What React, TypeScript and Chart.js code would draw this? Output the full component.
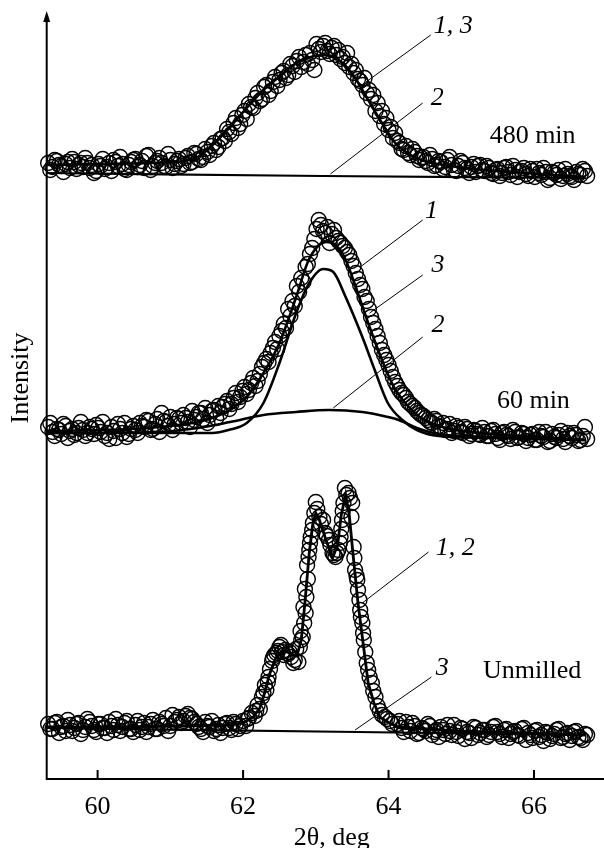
import React, { useEffect, useRef } from "react";
import { Chart, registerables } from "chart.js";

Chart.register(...registerables);

const FONT = '"Liberation Serif", "Times New Roman", Times, serif';

// ---- measured 2θ positions (deg), first and interleaved second sampling ----
const angles = [
  59.32, 59.38, 59.44, 59.5, 59.56, 59.62, 59.68, 59.74, 59.8, 59.86,
  59.92, 59.98, 60.04, 60.1, 60.16, 60.22, 60.28, 60.34, 60.4, 60.46,
  60.52, 60.58, 60.64, 60.7, 60.76, 60.82, 60.88, 60.94, 61.0, 61.06,
  61.12, 61.18, 61.24, 61.3, 61.36, 61.42, 61.48, 61.54, 61.6, 61.66,
  61.72, 61.78, 61.84, 61.9, 61.96, 62.02, 62.08, 62.14, 62.2, 62.26,
  62.32, 62.38, 62.44, 62.5, 62.56, 62.62, 62.68, 62.74, 62.8, 62.86,
  62.92, 62.98, 63.04, 63.1, 63.16, 63.22, 63.28, 63.34, 63.4, 63.46,
  63.52, 63.58, 63.64, 63.7, 63.76, 63.82, 63.88, 63.94, 64.0, 64.06,
  64.12, 64.18, 64.24, 64.3, 64.36, 64.42, 64.48, 64.54, 64.6, 64.66,
  64.72, 64.78, 64.84, 64.9, 64.96, 65.02, 65.08, 65.14, 65.2, 65.26,
  65.32, 65.38, 65.44, 65.5, 65.56, 65.62, 65.68, 65.74, 65.8, 65.86,
  65.92, 65.98, 66.04, 66.1, 66.16, 66.22, 66.28, 66.34, 66.4, 66.46,
  66.52, 66.58, 66.64, 66.7,
];
const angles2 = [
  59.35, 59.41, 59.47, 59.53, 59.59, 59.65, 59.71, 59.77, 59.83, 59.89,
  59.95, 60.01, 60.07, 60.13, 60.19, 60.25, 60.31, 60.37, 60.43, 60.49,
  60.55, 60.61, 60.67, 60.73, 60.79, 60.85, 60.91, 60.97, 61.03, 61.09,
  61.15, 61.21, 61.27, 61.33, 61.39, 61.45, 61.51, 61.57, 61.63, 61.69,
  61.75, 61.81, 61.87, 61.93, 61.99, 62.05, 62.11, 62.17, 62.23, 62.29,
  62.35, 62.41, 62.47, 62.53, 62.59, 62.65, 62.71, 62.77, 62.83, 62.89,
  62.95, 63.01, 63.07, 63.13, 63.19, 63.25, 63.31, 63.37, 63.43, 63.49,
  63.55, 63.61, 63.67, 63.73, 63.79, 63.85, 63.91, 63.97, 64.03, 64.09,
  64.15, 64.21, 64.27, 64.33, 64.39, 64.45, 64.51, 64.57, 64.63, 64.69,
  64.75, 64.81, 64.87, 64.93, 64.99, 65.05, 65.11, 65.17, 65.23, 65.29,
  65.35, 65.41, 65.47, 65.53, 65.59, 65.65, 65.71, 65.77, 65.83, 65.89,
  65.95, 66.01, 66.07, 66.13, 66.19, 66.25, 66.31, 66.37, 66.43, 66.49,
  66.55, 66.61, 66.67, 66.73,
];

// ---- 480 min (measured intensity, arb. units) ----
const counts480 = [
  616, 612, 618, 613, 615, 611, 617, 614, 612, 616,
  614, 608, 613, 610, 616, 619, 613, 615, 609, 617,
  620, 614, 611, 624, 613, 618, 616, 612, 619, 615,
  620, 615, 623, 617, 625, 619, 630, 624, 636, 632,
  641, 650, 645, 661, 655, 668, 675, 671, 686, 680,
  694, 688, 702, 699, 708, 704, 713, 718, 712, 724,
  726, 709, 730, 733, 728, 731, 724, 720, 716, 712,
  706, 700, 694, 686, 680, 668, 663, 655, 649, 641,
  638, 630, 633, 624, 627, 619, 622, 616, 620, 614,
  617, 612, 622, 609, 613, 616, 610, 612, 607, 614,
  608, 611, 605, 610, 606, 612, 604, 609, 607, 611,
  603, 608, 610, 604, 607, 601, 606, 609, 603, 605,
  602, 607, 604, 608,
];
const counts480b = [
  609, 619, 614, 607, 617, 620, 610, 616, 621, 611,
  606, 615, 620, 612, 608, 617, 622, 610, 614, 619,
  612, 618, 623, 609, 616, 621, 613, 625, 611, 618,
  613, 621, 616, 626, 620, 622, 627, 633, 629, 640,
  638, 647, 656, 651, 664, 660, 672, 681, 678, 692,
  684, 697, 693, 706, 701, 715, 707, 722, 717, 715,
  719, 735, 727, 736, 725, 733, 729, 722, 726, 715,
  709, 698, 701, 689, 684, 676, 668, 661, 652, 646,
  636, 629, 626, 630, 623, 621, 618, 624, 613, 618,
  610, 619, 614, 608, 618, 611, 606, 615, 613, 609,
  613, 606, 609, 603, 611, 607, 613, 602, 608, 605,
  610, 602, 606, 611, 599, 607, 604, 600, 610, 603,
  599, 605, 610, 603,
];
const fit480X = [59.3, 60.03, 60.7, 61.18, 61.38, 61.58, 61.82, 62.05, 62.28, 62.53, 62.73, 62.93, 63.1, 63.27, 63.41, 63.54, 63.64, 63.77, 63.91, 64.08, 64.28, 64.49, 64.76, 65.16, 65.7, 66.24, 66.7];
const fit480Y = [614, 615, 616, 618, 622, 634, 652, 671, 689, 704, 716, 722, 724, 721, 713, 701, 689, 673, 656, 637, 625, 618, 614, 610, 607, 604, 602];
const bg480X = [59.3, 63.1, 66.7];
const bg480Y = [606, 603, 601];

// ---- 60 min ----
const counts60 = [
  352, 347, 350, 345, 353, 348, 344, 351, 349, 346,
  350, 354, 347, 343, 340, 348, 355, 346, 342, 350,
  349, 356, 352, 358, 350, 360, 366, 357, 362, 355,
  360, 364, 357, 368, 362, 366, 371, 364, 369, 373,
  372, 378, 375, 386, 382, 392, 389, 401, 398, 412,
  420, 426, 437, 443, 455, 470, 478, 493, 501, 512,
  525, 540, 559, 548, 552, 545, 541, 536, 531, 524,
  513, 500, 490, 478, 462, 450, 436, 424, 414, 402,
  393, 386, 381, 375, 371, 366, 363, 359, 356, 358,
  352, 349, 355, 348, 351, 346, 350, 345, 348, 344,
  347, 343, 349, 341, 346, 344, 340, 347, 342, 345,
  341, 345, 339, 343, 347, 338, 342, 344, 340, 346,
  341, 344, 339, 352,
];
const counts60b = [
  356, 343, 349, 355, 341, 350, 346, 357, 343, 352,
  345, 351, 357, 346, 352, 341, 350, 356, 345, 353,
  346, 353, 359, 349, 355, 347, 358, 353, 349, 361,
  356, 361, 352, 359, 366, 360, 356, 368, 361, 366,
  375, 370, 381, 377, 388, 385, 396, 393, 405, 416,
  417, 431, 430, 448, 451, 463, 473, 487, 497, 515,
  531, 550, 554, 546, 536, 549, 538, 533, 527, 518,
  506, 494, 482, 470, 456, 443, 429, 419, 408, 397,
  389, 384, 377, 373, 368, 364, 361, 357, 360, 353,
  356, 350, 346, 353, 347, 352, 343, 349, 345, 351,
  343, 348, 345, 339, 347, 343, 349, 341, 346, 338,
  344, 339, 347, 342, 337, 345, 341, 348, 337, 343,
  346, 338, 343, 340,
];
const fit60X = [59.3, 60.03, 60.7, 61.11, 61.38, 61.61, 61.82, 62.05, 62.28, 62.5, 62.73, 62.89, 63.03, 63.14, 63.27, 63.41, 63.54, 63.72, 63.91, 64.08, 64.22, 64.39, 64.62, 64.92, 65.43, 66.11, 66.7];
const fit60Y = [348, 349, 351, 354, 357, 362, 369, 382, 406, 436, 482, 517, 533, 537, 534, 519, 494, 456, 419, 391, 377, 364, 355, 349, 345, 342, 339];
const narrow60X = [59.3, 60.7, 61.58, 61.8, 62.05, 62.28, 62.5, 62.73, 62.91, 63.1, 63.24, 63.41, 63.64, 63.81, 63.99, 64.19, 64.39, 64.69, 65.43, 66.7];
const narrow60Y = [346, 346, 346, 349, 356, 376, 416, 466, 496, 510, 507, 482, 442, 409, 376, 359, 349, 343, 341, 339];
const broad60X = [59.3, 60.84, 61.38, 61.82, 62.28, 62.73, 63.18, 63.64, 63.99, 64.14, 64.39, 64.69, 65.43, 66.7];
const broad60Y = [346, 347, 351, 357, 364, 367, 369, 367, 362, 359, 351, 345, 342, 339];

// ---- Unmilled ----
const unLeftCounts = [
  55, 50, 57, 52, 48, 54, 51, 56, 49, 60,
  53, 47, 55, 51, 57, 49, 54, 52, 58, 50,
  54, 49, 56, 52, 59, 50, 55, 61, 53, 57,
  62, 58, 65, 60, 55, 50, 57, 52, 48, 54,
  51, 56, 49, 55, 53,
];
const unLeftCountsB = [
  50, 56, 46, 53, 59, 48, 55, 45, 52, 57,
  49, 55, 51, 46, 53, 60, 48, 56, 50, 47,
  58, 52, 47, 55, 50, 57, 53, 48, 64, 59,
  56, 63, 61, 57, 52, 47, 53, 58, 50, 46,
  55, 51, 57, 50,
];
const unPeakX = [62.0, 62.04, 62.08, 62.12, 62.16, 62.2, 62.23, 62.26, 62.3, 62.32, 62.35, 62.37, 62.4, 62.43, 62.46, 62.5, 62.54, 62.58, 62.62, 62.66, 62.69, 62.73, 62.76, 62.78, 62.8, 62.82, 62.84, 62.86, 62.87, 62.89, 62.9, 62.91, 62.93, 62.96, 62.98, 63.0, 63.05, 63.1, 63.13, 63.18, 63.23, 63.27, 63.31, 63.34, 63.36, 63.38, 63.4, 63.45, 63.49, 63.5, 63.52, 63.54, 63.57, 63.58, 63.61, 63.64, 63.66, 63.7, 63.72, 63.77, 63.82, 63.88, 63.95, 64.02];
const unPeakY = [58, 53, 61, 66, 63, 74, 70, 82, 94, 89, 102, 110, 118, 124, 126, 132, 127, 129, 125, 122, 116, 130, 117, 132, 139, 142, 156, 166, 182, 200, 222, 229, 242, 256, 266, 277, 262, 259, 246, 239, 226, 222, 229, 242, 259, 276, 291, 286, 262, 276, 232, 209, 199, 189, 169, 156, 139, 116, 109, 96, 82, 68, 62, 58];
const unPeakXB = [62.06, 62.18, 62.28, 62.34, 62.41, 62.48, 62.52, 62.56, 62.64, 62.71, 62.79, 62.83, 62.85, 62.88, 62.92, 62.95, 63.02, 63.07, 63.15, 63.2, 63.25, 63.29, 63.33, 63.35, 63.37, 63.42, 63.47, 63.53, 63.56, 63.6, 63.62, 63.65, 63.68, 63.74, 63.79, 63.85, 63.91, 63.98, 64.05];
const unPeakYB = [60, 68, 86, 97, 121, 128, 134, 124, 127, 119, 148, 172, 190, 214, 236, 249, 270, 255, 243, 234, 224, 226, 236, 250, 268, 284, 281, 221, 203, 179, 162, 146, 127, 102, 88, 73, 64, 60, 55];
const unRightCounts = [
  55, 51, 57, 48, 53, 46, 50, 55, 44, 49,
  52, 45, 48, 54, 43, 50, 47, 41, 51, 46,
  49, 44, 52, 47, 42, 50, 45, 48, 43, 51,
  46, 41, 49, 44, 47, 40, 45, 50, 42, 46,
  43, 48, 41, 45,
];
const unRightCountsB = [
  58, 47, 52, 56, 45, 51, 48, 53, 47, 42,
  49, 54, 44, 47, 51, 40, 46, 52, 44, 49,
  42, 47, 53, 45, 49, 41, 47, 44, 50, 39,
  44, 48, 42, 38, 46, 43, 49, 41, 45, 39,
  47, 42, 39, 44,
];
const fitUnX = [59.3, 60.3, 61.11, 61.78, 62.0, 62.14, 62.23, 62.3, 62.36, 62.45, 62.55, 62.66, 62.74, 62.8, 62.85, 62.91, 62.96, 63.0, 63.05, 63.14, 63.23, 63.3, 63.35, 63.41, 63.46, 63.51, 63.58, 63.65, 63.72, 63.8, 63.88, 64.01, 64.14, 64.92, 66.7];
const fitUnY = [52, 52, 53, 54, 56, 62, 71, 87, 104, 121, 129, 125, 123, 139, 176, 226, 256, 266, 259, 239, 221, 234, 264, 284, 264, 226, 176, 136, 96, 76, 62, 56, 52, 48, 44];
const bgUnX = [59.3, 63.57, 66.7];
const bgUnY = [51, 47, 44];

const xTicks = [60, 62, 64, 66];

// labels: text, anchor (2θ, intensity), italic
const curveLabels = [
  { text: "1, 3", x: 64.62, y: 746, italic: true },
  { text: "2", x: 64.58, y: 674, italic: true },
  { text: "480 min", x: 65.39, y: 636, italic: false },
  { text: "1", x: 64.5, y: 561, italic: true },
  { text: "3", x: 64.59, y: 507, italic: true },
  { text: "2", x: 64.59, y: 447, italic: true },
  { text: "60 min", x: 65.49, y: 371, italic: false },
  { text: "1, 2", x: 64.65, y: 224, italic: true },
  { text: "3", x: 64.65, y: 104, italic: true },
  { text: "Unmilled", x: 65.3, y: 101, italic: false },
];
const leaderLines = [
  [64.58, 744, 63.69, 697],
  [64.47, 676, 63.2, 605],
  [64.47, 559, 63.61, 512],
  [64.47, 504, 63.74, 466],
  [64.47, 442, 63.24, 371],
  [64.55, 227, 63.64, 176],
  [64.59, 102, 63.54, 49],
];

const pts = (xs: number[], ys: number[]) => xs.map((x, i) => ({ x, y: ys[i] }));
const merged = (...sets: { x: number; y: number }[][]) =>
  ([] as { x: number; y: number }[]).concat(...sets).sort((a, b) => a.x - b.x);

const data480 = merged(pts(angles, counts480), pts(angles2, counts480b));
const data60 = merged(pts(angles, counts60), pts(angles2, counts60b));
const dataUn = merged(
  pts(angles.slice(0, 45), unLeftCounts),
  pts(angles2.slice(0, 44), unLeftCountsB),
  pts(unPeakX, unPeakY),
  pts(unPeakXB, unPeakYB),
  pts(angles.slice(80), unRightCounts),
  pts(angles2.slice(80), unRightCountsB)
);

const overlayPlugin = {
  id: "overlay",
  afterDatasetsDraw(chart: any) {
    const { ctx, chartArea, scales } = chart;
    const xs = scales.x;
    const ys = scales.y;
    ctx.save();
    ctx.strokeStyle = "#000";
    ctx.lineWidth = 1;
    for (const [x1, y1, x2, y2] of leaderLines) {
      ctx.beginPath();
      ctx.moveTo(xs.getPixelForValue(x1), ys.getPixelForValue(y1));
      ctx.lineTo(xs.getPixelForValue(x2), ys.getPixelForValue(y2));
      ctx.stroke();
    }
    ctx.fillStyle = "#000";
    ctx.textBaseline = "alphabetic";
    ctx.textAlign = "left";
    for (const l of curveLabels) {
      ctx.font = `${l.italic ? "italic " : ""}26px ${FONT}`;
      ctx.fillText(l.text, xs.getPixelForValue(l.x), ys.getPixelForValue(l.y));
    }
    const left = chartArea.left;
    const bottom = chartArea.bottom;
    ctx.lineWidth = 2;
    ctx.beginPath();
    ctx.moveTo(left, bottom);
    ctx.lineTo(chart.width, bottom);
    ctx.moveTo(left, bottom + 1);
    ctx.lineTo(left, chartArea.top + 8);
    ctx.stroke();
    ctx.beginPath();
    ctx.moveTo(left, chartArea.top - 1);
    ctx.lineTo(left - 3.5, chartArea.top + 10);
    ctx.lineTo(left + 3.5, chartArea.top + 10);
    ctx.closePath();
    ctx.fill();
    for (const t of xTicks) {
      const px = xs.getPixelForValue(t);
      ctx.beginPath();
      ctx.moveTo(px, bottom);
      ctx.lineTo(px, bottom - 9);
      ctx.stroke();
    }
    ctx.font = `26px ${FONT}`;
    ctx.textAlign = "center";
    ctx.fillText("2θ, deg", xs.getPixelForValue(63.22), bottom + 66);
    ctx.translate(left - 19, ys.getPixelForValue(401));
    ctx.rotate(-Math.PI / 2);
    ctx.fillText("Intensity", 0, 0);
    ctx.restore();
  },
};

const circleStyle = {
  showLine: false,
  pointRadius: 7.5,
  pointBorderWidth: 1.4,
  pointBorderColor: "#000",
  pointBackgroundColor: "rgba(255,255,255,0)",
  pointHoverRadius: 7.5,
  order: 2,
  clip: false as any,
};
const lineStyle = (w: number, smooth = true) => ({
  showLine: true,
  pointRadius: 0,
  pointHoverRadius: 0,
  borderColor: "#000",
  borderWidth: w,
  cubicInterpolationMode: smooth ? ("monotone" as const) : ("default" as const),
  tension: 0,
  order: 1,
  clip: false as any,
});

export default function App() {
  const ref = useRef<HTMLCanvasElement | null>(null);
  useEffect(() => {
    if (!ref.current) return;
    const chart = new Chart(ref.current, {
      type: "scatter",
      data: {
        datasets: [
          { label: "480 min data", data: data480, ...circleStyle },
          { label: "60 min data", data: data60, ...circleStyle },
          { label: "Unmilled data", data: dataUn, ...circleStyle },
          { label: "480 fit 1,3", data: pts(fit480X, fit480Y), ...lineStyle(2.6) },
          { label: "480 bg 2", data: pts(bg480X, bg480Y), ...lineStyle(2.2) },
          { label: "60 fit 1", data: pts(fit60X, fit60Y), ...lineStyle(2.6) },
          { label: "60 narrow 3", data: pts(narrow60X, narrow60Y), ...lineStyle(2.6) },
          { label: "60 broad 2", data: pts(broad60X, broad60Y), ...lineStyle(2.6) },
          { label: "Unmilled fit 1,2", data: pts(fitUnX, fitUnY), ...lineStyle(2.8, false) },
          { label: "Unmilled bg 3", data: pts(bgUnX, bgUnY), ...lineStyle(2.2) },
        ] as any,
      },
      options: {
        responsive: false,
        devicePixelRatio: 1,
        animation: false,
        events: [],
        layout: { padding: { left: 46.7, right: 0, top: 12, bottom: 0 } },
        plugins: { legend: { display: false }, tooltip: { enabled: false } },
        scales: {
          x: {
            type: "linear",
            min: 59.3,
            max: 66.84,
            grid: { display: false },
            border: { display: false },
            afterBuildTicks: (s: any) => {
              s.ticks = xTicks.map((v) => ({ value: v }));
            },
            afterFit: (s: any) => {
              s.height = 69;
            },
            ticks: {
              autoSkip: false,
              maxRotation: 0,
              padding: 5,
              color: "#000",
              font: { family: FONT, size: 26 },
              callback: (v: any) => String(v),
            },
          },
          y: { type: "linear", display: false, min: 0, max: 767 },
        },
      },
      plugins: [overlayPlugin],
    });
    return () => chart.destroy();
  }, []);
  return (
    <div style={{ position: "absolute", left: 0, top: 0, width: 604, height: 848, background: "#fff" }}>
      <canvas ref={ref} width={604} height={848} style={{ display: "block" }} />
    </div>
  );
}
